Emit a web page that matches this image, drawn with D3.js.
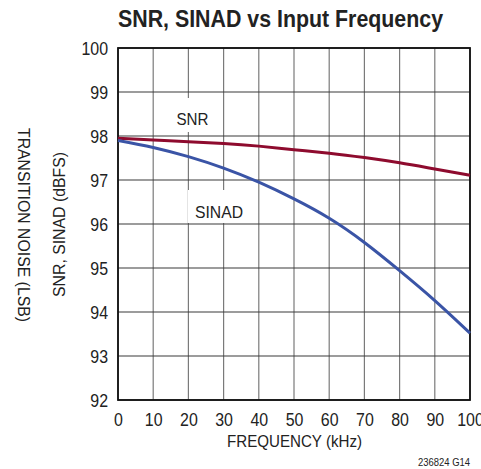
<!DOCTYPE html>
<html>
<head>
<meta charset="utf-8">
<script src="https://cdn.jsdelivr.net/npm/d3@7"></script>
<style>
  body { margin: 0; background: #fff; }
  text { font-family: "Liberation Sans Narrow", "Liberation Sans", sans-serif; fill: #222; }
</style>
</head>
<body>
<svg id="chart"></svg>
<script>
var freq = [0, 10, 20, 30, 40, 50, 60, 70, 80, 90, 100];
var snr = [97.95, 97.91, 97.87, 97.83, 97.77, 97.69, 97.61, 97.51, 97.39, 97.25, 97.11];
var sinad = [97.9, 97.74, 97.53, 97.27, 96.95, 96.57, 96.13, 95.58, 94.94, 94.26, 93.52];
var xTicks = [0, 10, 20, 30, 40, 50, 60, 70, 80, 90, 100];
var yTicks = [92, 93, 94, 95, 96, 97, 98, 99, 100];

var width = 481, height = 469;
var plotL = 118, plotR = 470, plotT = 48, plotB = 400;

var svg = d3.select('#chart')
  .attr('width', width)
  .attr('height', height);

var xScale = d3.scaleLinear().domain([0, 100]).range([plotL, plotR]);
var yScale = d3.scaleLinear().domain([92, 100]).range([plotB, plotT]);

// grid
svg.append('g').selectAll('line')
  .data(xTicks)
  .enter()
  .append('line')
    .attr('x1', d => xScale(d)).attr('x2', d => xScale(d))
    .attr('y1', plotT).attr('y2', plotB)
    .attr('stroke', '#7a7a7a')
    .attr('stroke-width', 1.2);
svg.append('g').selectAll('line')
  .data(yTicks)
  .enter()
  .append('line')
    .attr('x1', plotL).attr('x2', plotR)
    .attr('y1', d => yScale(d)).attr('y2', d => yScale(d))
    .attr('stroke', '#3a3a3a')
    .attr('stroke-width', 1.2);

// white boxes behind curve labels
svg.append('rect').attr('x', 172).attr('y', 98).attr('width', 42).attr('height', 34).attr('fill', '#fff');
svg.append('rect').attr('x', 188).attr('y', 190).attr('width', 62).attr('height', 33).attr('fill', '#fff');

svg.append('rect')
  .attr('x', plotL).attr('y', plotT)
  .attr('width', plotR - plotL).attr('height', plotB - plotT)
  .attr('fill', 'none')
  .attr('stroke', '#111')
  .attr('stroke-width', 1.8);

var line = d3.line()
  .x((d, i) => xScale(freq[i]))
  .y(d => yScale(d))
  .curve(d3.curveNatural);

svg.append('path')
  .attr('d', line(snr))
  .attr('fill', 'none')
  .attr('stroke', '#8e0b2e')
  .attr('stroke-width', 3);
svg.append('path')
  .attr('d', line(sinad))
  .attr('fill', 'none')
  .attr('stroke', '#3a54a6')
  .attr('stroke-width', 3);

// axes
var xAxis = d3.axisBottom(xScale).tickValues(xTicks).tickSize(0).tickPadding(13);
var yAxis = d3.axisLeft(yScale).tickValues(yTicks).tickSize(0).tickPadding(8);

var gx = svg.append('g')
  .attr('transform', 'translate(0,' + plotB + ')')
  .call(xAxis);
var gy = svg.append('g')
  .attr('transform', 'translate(' + plotL + ',0)')
  .call(yAxis);
gx.select('.domain').remove();
gy.select('.domain').remove();
svg.selectAll('.tick text')
  .attr('font-family', '"Liberation Sans Narrow", "Liberation Sans", sans-serif')
  .attr('font-size', 19)
  .attr('fill', '#222')
  .attr('transform', 'scale(0.84,1)');
gy.selectAll('.tick text').attr('x', -10 / 0.84);

function label(x, y, txt, size, len, rot) {
  var t = svg.append('text')
    .attr('transform', 'translate(' + x + ',' + y + ')' + (rot ? ' rotate(' + rot + ')' : ''))
    .style('text-anchor', 'middle')
    .style('font-size', size + 'px')
    .attr('textLength', len)
    .attr('lengthAdjust', 'spacingAndGlyphs')
    .text(txt);
  return t;
}

label(280.5, 27, 'SNR, SINAD vs Input Frequency', 24, 325).style('font-weight', 'bold');
label(294.5, 447, 'FREQUENCY (kHz)', 17, 135);
label(65, 224.5, 'SNR, SINAD (dBFS)', 17, 145, -90);
label(18, 225, 'TRANSITION NOISE (LSB)', 17, 194, 90);
label(192.5, 125, 'SNR', 17, 32);
label(219, 218, 'SINAD', 17, 48);

svg.append('text')
  .attr('x', 470)
  .attr('y', 466)
  .style('text-anchor', 'end')
  .style('font-size', '11px')
  .attr('textLength', 52)
  .attr('lengthAdjust', 'spacingAndGlyphs')
  .text('236824 G14');
</script>
</body>
</html>
